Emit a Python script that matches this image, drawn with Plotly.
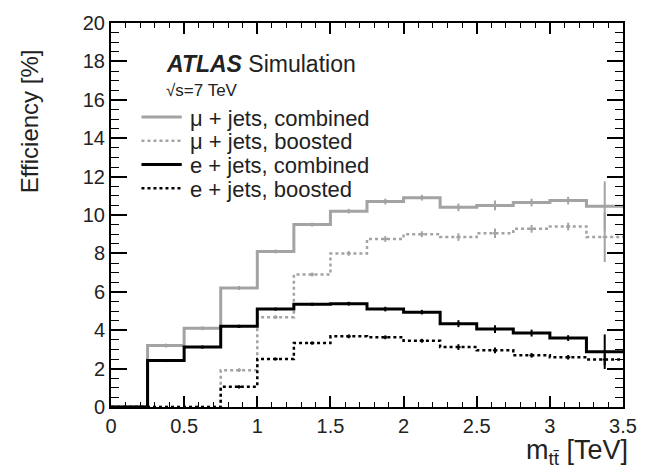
import plotly.graph_objects as go

# ---- data ----
bin_edges = [0.0, 0.25, 0.5, 0.75, 1.0, 1.25, 1.5, 1.75, 2.0, 2.25, 2.5, 2.75, 3.0, 3.25, 3.5]
mu_combined = [0, 3.2, 4.1, 6.2, 8.1, 9.5, 10.2, 10.7, 10.9, 10.4, 10.5, 10.65, 10.75, 10.45]
mu_boosted = [0, 0, 0, 1.92, 4.68, 6.9, 8.0, 8.75, 9.0, 8.85, 9.05, 9.28, 9.4, 8.85]
e_combined = [0, 2.42, 3.12, 4.2, 5.1, 5.35, 5.38, 5.1, 4.94, 4.34, 4.06, 3.85, 3.59, 2.88]
e_boosted = [0, 0, 0, 1.05, 2.5, 3.33, 3.68, 3.63, 3.45, 3.12, 2.95, 2.69, 2.59, 2.47]
mu_combined_err = [0, 0.1, 0.1, 0.1, 0.1, 0.1, 0.12, 0.15, 0.15, 0.2, 0.25, 0.2, 0.2, 1.3]
mu_boosted_err = [0, 0, 0, 0.1, 0.1, 0.1, 0.12, 0.15, 0.15, 0.2, 0.25, 0.2, 0.2, 1.3]
e_combined_err = [0, 0.08, 0.08, 0.08, 0.08, 0.08, 0.1, 0.12, 0.12, 0.18, 0.2, 0.18, 0.15, 0.9]
e_boosted_err = [0, 0, 0, 0.08, 0.08, 0.08, 0.1, 0.1, 0.1, 0.15, 0.15, 0.12, 0.12, 0.3]
labels = ["μ + jets, combined", "μ + jets, boosted", "e + jets, combined", "e + jets, boosted"]

GRAY = "#a3a3a3"
BLACK = "#000000"
TXT = "#222222"
FONT = "Liberation Sans, Arial, sans-serif"

series = [
    (mu_combined, mu_combined_err, labels[0], GRAY, "solid", 3),
    (mu_boosted, mu_boosted_err, labels[1], GRAY, "dot", 2.5),
    (e_combined, e_combined_err, labels[2], BLACK, "solid", 3),
    (e_boosted, e_boosted_err, labels[3], BLACK, "dot", 2.5),
]

fig = go.Figure()
centers = [(bin_edges[i] + bin_edges[i + 1]) / 2 for i in range(len(bin_edges) - 1)]

for vals, errs, name, col, dash, w in series:
    xs = list(bin_edges)
    ys = list(vals) + [vals[-1]]
    fig.add_trace(go.Scatter(x=xs, y=ys, mode="lines", line_shape="hv",
                             line=dict(color=col, width=w, dash=dash),
                             name=name, showlegend=False))
for vals, errs, name, col, dash, w in series:
    cx = [c for c, v in zip(centers, vals) if v > 0]
    cy = [v for v in vals if v > 0]
    ce = [e for e, v in zip(errs, vals) if v > 0]
    fig.add_trace(go.Scatter(x=cx, y=cy, mode="markers",
                             marker=dict(color=col, size=3, symbol="line-ew", line=dict(color=col, width=2)),
                             error_y=dict(type="data", array=ce, visible=True, color=col,
                                          thickness=2, width=0),
                             showlegend=False, hoverinfo="skip"))

L, R, T, B = 111, 17, 19, 67
W, H = 649, 474
pw, ph = W - L - R, H - T - B

def px(x):
    return (x - L) / pw

def py(y):
    return (H - B - y) / ph

axis_common = dict(showline=True, linecolor="black", linewidth=2, mirror="allticks",
                   ticks="inside", tickcolor="black", tickwidth=1.5,
                   showgrid=False, zeroline=False,
                   tickfont=dict(family=FONT, size=20, color=TXT))

fig.update_xaxes(range=[0, 3.5], dtick=0.5, tick0=0, ticklen=11,
                 minor=dict(dtick=0.1, ticklen=5, ticks="inside", tickcolor="black", tickwidth=1.2),
                 **axis_common)
fig.update_yaxes(range=[0, 20], dtick=2, tick0=0, ticklen=16,
                 minor=dict(dtick=0.5, ticklen=8, ticks="inside", tickcolor="black", tickwidth=1.2),
                 **axis_common)

fig.add_annotation(xref="paper", yref="paper", x=px(28), y=py(43), text="Efficiency [%]",
                   textangle=-90, showarrow=False, xanchor="center", yanchor="top",
                   font=dict(family=FONT, size=24, color=TXT))
fig.add_annotation(xref="paper", yref="paper", x=px(639), y=py(452), text="m<sub>tt̄</sub> [TeV]",
                   showarrow=False, xanchor="right", yanchor="middle",
                   font=dict(family=FONT, size=27, color=TXT))
fig.add_annotation(xref="paper", yref="paper", x=px(165), y=py(60),
                   text="<b><i>ATLAS</i></b> Simulation",
                   showarrow=False, xanchor="left", yanchor="middle",
                   font=dict(family=FONT, size=23, color=TXT))
fig.add_annotation(xref="paper", yref="paper", x=px(165), y=py(87),
                   text="√s=7 TeV",
                   showarrow=False, xanchor="left", yanchor="middle",
                   font=dict(family=FONT, size=17, color=TXT))

# manual legend
row_y = [114, 138, 162, 186]
for (vals, errs, name, col, dash, w), yy in zip(series, row_y):
    fig.add_shape(type="line", xref="paper", yref="paper",
                  x0=px(142), x1=px(183), y0=py(yy), y1=py(yy),
                  line=dict(color=col, width=w, dash=dash))
    fig.add_annotation(xref="paper", yref="paper", x=px(189), y=py(yy + 1), text=name,
                       showarrow=False, xanchor="left", yanchor="middle",
                       font=dict(family=FONT, size=22, color=TXT))

fig.update_layout(
    width=W, height=H,
    margin=dict(l=L, r=R, t=T, b=B),
    plot_bgcolor="white", paper_bgcolor="white",
    showlegend=False,
)

fig.write_html("out.html")
